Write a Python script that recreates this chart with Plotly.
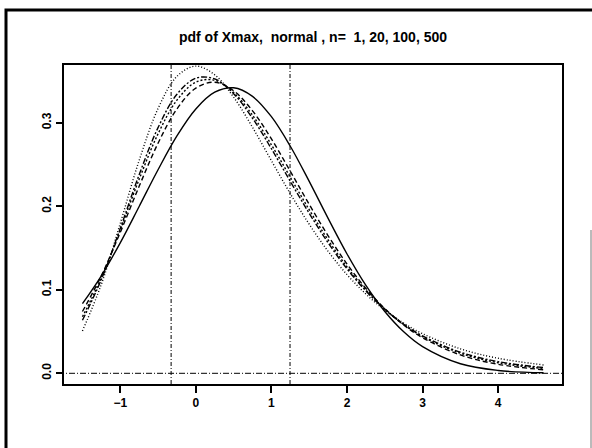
import plotly.graph_objects as go

# Grid of standardized x values where each density is tabulated
x_grid = [-1.5, -1.25, -1.0, -0.75, -0.5, -0.25, 0.0, 0.25, 0.5, 0.75, 1.0,
          1.25, 1.5, 1.75, 2.0, 2.25, 2.5, 2.75, 3.0, 3.5, 4.0, 4.6]

# Densities of the (quartile-standardized) maximum for each sample size
pdf_n1 = [0.0834, 0.1168, 0.1563, 0.1998, 0.2438, 0.2843, 0.3166, 0.3366, 0.3419,
          0.3316, 0.3073, 0.2719, 0.2298, 0.1855, 0.1429, 0.1052, 0.0740, 0.0497,
          0.0319, 0.0114, 0.0034, 0.0006]
pdf_n20 = [0.0740, 0.1169, 0.1687, 0.2239, 0.2755, 0.3165, 0.3416, 0.3485, 0.3383,
           0.3143, 0.2806, 0.2419, 0.2023, 0.1647, 0.1308, 0.1016, 0.0774, 0.0579,
           0.0426, 0.0220, 0.0108, 0.0043]
pdf_n100 = [0.0677, 0.1141, 0.1716, 0.2323, 0.2867, 0.3271, 0.3487, 0.3509, 0.3362,
            0.3090, 0.2736, 0.2347, 0.1959, 0.1597, 0.1274, 0.0998, 0.0769, 0.0585,
            0.0439, 0.0240, 0.0127, 0.0058]
pdf_n500 = [0.0635, 0.1122, 0.1735, 0.2378, 0.2942, 0.3341, 0.3534, 0.3525, 0.3349,
            0.3054, 0.2689, 0.2298, 0.1916, 0.1563, 0.1251, 0.0986, 0.0766, 0.0588,
            0.0448, 0.0253, 0.0140, 0.0069]
pdf_limit = [0.0507, 0.1065, 0.1794, 0.2549, 0.3170, 0.3556, 0.3679, 0.3574, 0.3307,
             0.2945, 0.2546, 0.2151, 0.1785, 0.1461, 0.1182, 0.0949, 0.0756, 0.0600,
             0.0474, 0.0293, 0.0180, 0.0100]

# Quartiles of the limiting distribution, marked by vertical reference lines
ref_quartiles = [-0.327, 1.246]

x_ticks = [-1, 0, 1, 2, 3, 4]
y_ticks = [0.0, 0.1, 0.2, 0.3]
y_tick_text = ["0.0", "0.1", "0.2", "0.3"]

title_text = "pdf of Xmax,  normal , n=  1, 20, 100, 500"

series = [
    ("n=1", pdf_n1, "solid"),
    ("n=20", pdf_n20, "5px,3px"),
    ("n=100", pdf_n100, "2px,2px"),
    ("n=500", pdf_n500, "6px,2px,2px,2px"),
    ("limit", pdf_limit, "1px,2px"),
]

fig = go.Figure()
for name, ys, dash in series:
    fig.add_trace(go.Scatter(
        x=x_grid, y=ys, mode="lines", name=name,
        line=dict(color="black", width=1.4, dash=dash, shape="spline", smoothing=1.0),
        showlegend=False, hoverinfo="skip",
    ))

# Vertical reference lines at the quartiles
for q in ref_quartiles:
    fig.add_shape(type="line", xref="x", yref="paper", x0=q, x1=q, y0=0, y1=1,
                  line=dict(color="black", width=1, dash="4px,2px,1px,2px"))

# Horizontal zero line
fig.add_shape(type="line", xref="paper", yref="y", x0=-0.012, x1=1, y0=0, y1=0,
              line=dict(color="black", width=1, dash="6px,2px,1px,2px"))

# Outer page frame (its right side runs past the page edge)
L, R, T, B = 64, 30, 65, 64
W, H = 592, 448
pw, ph = W - L - R, H - T - B
fig.add_shape(type="rect", xref="paper", yref="paper",
              x0=(6 - L) / pw, x1=(600 - L) / pw,
              y0=(H - B - 470) / ph, y1=(H - B - 10) / ph,
              line=dict(color="black", width=3), fillcolor="rgba(0,0,0,0)")
# Faint page edge on the right
fig.add_shape(type="line", xref="paper", yref="paper",
              x0=(591 - L) / pw, x1=(591 - L) / pw,
              y0=(H - B - 448) / ph, y1=(H - B - 230) / ph,
              line=dict(color="#777777", width=1))

font_family = "Liberation Sans, Arial, sans-serif"

fig.update_layout(
    width=W, height=H,
    margin=dict(l=L, r=R, t=T, b=B),
    paper_bgcolor="white", plot_bgcolor="white",
    title=dict(text=title_text, x=0.5, xref="paper", xanchor="center",
               y=1 - 37 / H, yref="container", yanchor="middle",
               font=dict(family=font_family, size=14, color="black", weight="bold")),
    xaxis=dict(range=[-1.744, 4.844], tickvals=x_ticks, ticks="outside", ticklen=7,
               tickwidth=1.5, tickcolor="black", showgrid=False, zeroline=False,
               showline=True, linecolor="black", linewidth=1.5, mirror=True,
               tickfont=dict(family=font_family, size=12, color="black", weight="bold")),
    yaxis=dict(range=[-0.0128, 0.3692], tickvals=y_ticks, ticktext=y_tick_text,
               ticks="outside", ticklen=6, tickwidth=1.5, tickcolor="black",
               tickangle=-90, showgrid=False, zeroline=False,
               showline=True, linecolor="black", linewidth=1.5, mirror=True,
               tickfont=dict(family=font_family, size=12, color="black", weight="bold")),
)

fig.write_html("out.html")
